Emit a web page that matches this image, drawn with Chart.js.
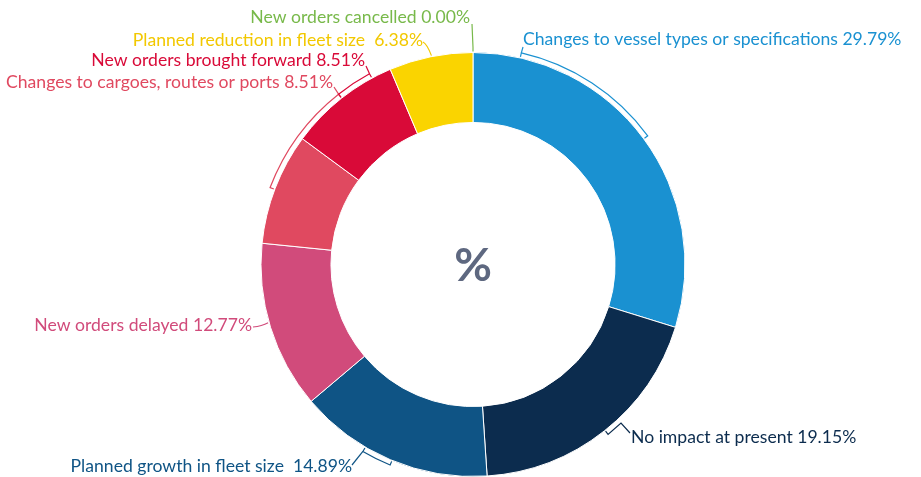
<!DOCTYPE html>
<html>
<head>
<meta charset="utf-8">
<script src="https://cdn.jsdelivr.net/npm/chart.js@4"></script>
<style>
  html, body { margin: 0; padding: 0; background: #fff; }
  #wrap { width: 921px; height: 477px; }
</style>
</head>
<body>
<div id="wrap"><canvas id="impactChart" width="921" height="477"></canvas></div>
<script>
// Impact on fleet plans, share of responses (%)
const categories = [
  'Changes to vessel types or specifications',
  'No impact at present',
  'Planned growth in fleet size ',
  'New orders delayed',
  'Changes to cargoes, routes or ports',
  'New orders brought forward',
  'Planned reduction in fleet size ',
  'New orders cancelled'
];
const shares = [29.79, 19.15, 14.89, 12.77, 8.51, 8.51, 6.38, 0.00];

const sliceColours = ['#1a91d1', '#0c2c4e', '#0f5485', '#d14b7b', '#e04960', '#d90a38', '#fad400', '#7bbf4a'];
const textColours  = ['#1a91d1', '#0c2c4e', '#0f5485', '#d14b7b', '#e04960', '#d90a38', '#f2c800', '#78b94a'];

const FONT = '17.6px Lato, "Open Sans", sans-serif';

// callout layout per slice: bracket = [from, to] as fractions of the slice sweep,
// lead = fraction where a plain leader leaves the ring, path = extra leader points,
// label = anchor of the text
const callouts = [
  { bracket: [0.12, 0.50], from: 0, path: [[523, 47]], label: [523, 39, 'left'] },
  { lead: 0.497, path: [[621, 423], [630, 433]], label: [631, 437, 'left'] },
  { bracket: [0.49, 0.64], from: 1, path: [[352, 465]], label: [352, 466, 'right'] },
  { lead: 0.53, curve: [262, 326], path: [[253, 327]], label: [252, 325, 'right'] },
  { bracket: [0.49, 1.50], from: 1, path: [[334, 87]], label: [333, 82, 'right'] },
  { bracket: [0.50, 0.82], from: 1, path: [[366, 66]], label: [365, 60, 'right'] },
  { lead: 0.51, curve: [427, 44], path: [[423, 42]], label: [423, 40, 'right'] },
  { lead: 0, path: [[472, 24]], label: [470, 17, 'right'] }
];

function ringPoint(arc, f, dr) {
  const a = arc.startAngle + f * (arc.endAngle - arc.startAngle);
  const r = arc.outerRadius + dr;
  return [arc.x + r * Math.cos(a), arc.y + r * Math.sin(a)];
}

const calloutPlugin = {
  id: 'callouts',
  afterDatasetsDraw(chart) {
    const ctx = chart.ctx;
    const arcs = chart.getDatasetMeta(0).data;
    ctx.save();
    ctx.lineWidth = 1.2;
    ctx.font = FONT;
    ctx.textBaseline = 'middle';
    callouts.forEach((c, i) => {
      const arc = arcs[i];
      const a0 = arc.startAngle, a1 = arc.endAngle;
      ctx.strokeStyle = textColours[i];
      ctx.beginPath();
      if (c.bracket) {
        const gap = 5;
        const [f0, f1] = c.bracket;
        const s0 = ringPoint(arc, f0, gap - 4);
        const e1 = ringPoint(arc, f1, gap - 4);
        ctx.moveTo(s0[0], s0[1]);
        ctx.arc(arc.x, arc.y, arc.outerRadius + gap,
          a0 + f0 * (a1 - a0), a0 + f1 * (a1 - a0));
        ctx.lineTo(e1[0], e1[1]);
        ctx.stroke();
        const start = ringPoint(arc, c.bracket[c.from], gap);
        ctx.beginPath();
        ctx.moveTo(start[0], start[1]);
      } else {
        const p0 = ringPoint(arc, c.lead, 1);
        const p1 = ringPoint(arc, c.lead, 5);
        ctx.moveTo(p0[0], p0[1]);
        if (c.curve) {
          const end = c.path[0];
          ctx.quadraticCurveTo(c.curve[0], c.curve[1], end[0], end[1]);
        } else {
          ctx.lineTo(p1[0], p1[1]);
        }
      }
      c.path.forEach(p => ctx.lineTo(p[0], p[1]));
      ctx.stroke();

      ctx.fillStyle = textColours[i];
      ctx.textAlign = c.label[2];
      ctx.fillText(categories[i] + ' ' + shares[i].toFixed(2) + '%', c.label[0], c.label[1]);
    });

    // unit in the hole
    ctx.fillStyle = '#5e6880';
    ctx.font = 'bold 46px Lato, sans-serif';
    ctx.textAlign = 'center';
    ctx.fillText('%', arcs[0].x, arcs[0].y + 2);
    ctx.restore();
  }
};

new Chart(document.getElementById('impactChart'), {
  type: 'doughnut',
  data: {
    labels: categories,
    datasets: [{
      data: shares,
      backgroundColor: sliceColours,
      borderColor: '#ffffff',
      borderWidth: 1
    }]
  },
  options: {
    responsive: false,
    animation: false,
    cutout: '67%',
    layout: {
      padding: { left: 260, right: 235, top: 52, bottom: 0 }
    },
    plugins: {
      legend: { display: false },
      tooltip: { enabled: false }
    }
  },
  plugins: [calloutPlugin]
});
</script>
</body>
</html>
